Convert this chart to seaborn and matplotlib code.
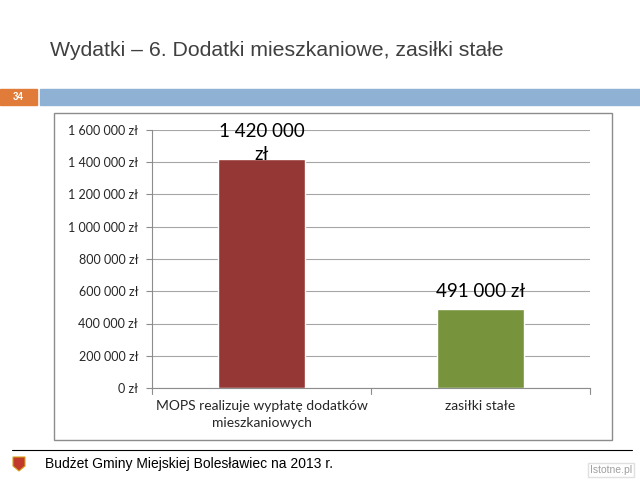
import pandas as pd
import matplotlib
matplotlib.use('Agg')
import matplotlib.pyplot as plt
import matplotlib.patches as mpatches
import seaborn as sns

# dane
kategorie = ['MOPS realizuje wypłatę dodatków\nmieszkaniowych', 'zasiłki stałe']
wartosci = [1420000, 491000]
etykiety_slupkow = ['1 420 000\nzł', '491 000 zł']
kolory = ['#953735', '#77933C']
y_ticks = [0, 200000, 400000, 600000, 800000, 1000000, 1200000, 1400000, 1600000]
y_labels = ['0 zł', '200 000 zł', '400 000 zł', '600 000 zł', '800 000 zł',
            '1 000 000 zł', '1 200 000 zł', '1 400 000 zł', '1 600 000 zł']

tytul = 'Wydatki – 6. Dodatki mieszkaniowe, zasiłki stałe'
stopka = 'Budżet Gminy Miejskiej Bolesławiec na 2013 r.'

sns.set_style('white')
plt.rcParams['font.family'] = ['Liberation Sans', 'DejaVu Sans']
chart_font = ['Lato', 'DejaVu Sans']

fig = plt.figure(figsize=(6.4, 4.8), dpi=100)
fig.patch.set_facecolor('white')

W, H = 640, 480
def fx(px):
    return px / W
def fy(py):
    return 1 - py / H

# tytuł
fig.text(fx(50), fy(50), tytul, fontsize=15.3, color='#404040', va='center', ha='left')

# pasek z numerem slajdu
fig.add_artist(mpatches.Rectangle((0, fy(105)), fx(37), fy(89) - fy(105),
                                  transform=fig.transFigure, color='#E07B39', zorder=-2))
fig.add_artist(mpatches.Rectangle((fx(40), fy(105)), 1 - fx(40), fy(89) - fy(105),
                                  transform=fig.transFigure, color='#8FB1D3', zorder=-2))
fig.text(fx(18), fy(97), '34', fontsize=7, color='white', fontweight='bold', ha='center', va='center')

# ramka wykresu
fig.add_artist(mpatches.Rectangle((fx(54), fy(440)), fx(612) - fx(54), fy(113) - fy(440),
                                  transform=fig.transFigure, facecolor='white',
                                  edgecolor='#8C8C8C', linewidth=1, zorder=-2))

ax = fig.add_axes([fx(152), fy(388), fx(590) - fx(152), fy(130) - fy(388)])
ax.set_zorder(5)
ax.patch.set_alpha(0)
df = pd.DataFrame({'kategoria': kategorie, 'wartosc': wartosci})
sns.barplot(data=df, x='kategoria', y='wartosc', hue='kategoria', palette=kolory,
            width=0.4, legend=False, saturation=1, ax=ax)

ax.set_ylim(0, 1600000)
ax.set_xlim(-0.5, 1.5)
ax.set_yticks(y_ticks)
ax.set_yticklabels(y_labels, fontsize=9, family=chart_font)
ax.set_xticks([0, 1])
ax.set_xticklabels(kategorie, fontsize=10, family=chart_font, linespacing=1.45)
ax.set_xlabel('')
ax.set_ylabel('')
ax.grid(axis='y', color='#A6A6A6', linewidth=0.8)
ax.set_axisbelow(True)
for s in ['top', 'right']:
    ax.spines[s].set_visible(False)
for s in ['left', 'bottom']:
    ax.spines[s].set_color('#8C8C8C')
    ax.spines[s].set_linewidth(0.8)
ax.tick_params(axis='y', length=4, color='#8C8C8C', left=True, pad=6)
ax.tick_params(axis='x', length=0, pad=9)
# znaczniki między kategoriami
for xb in [-0.5, 0.5, 1.5]:
    ax.plot([xb, xb], [0, -40000], color='#8C8C8C', linewidth=0.8, clip_on=False)

# etykiety słupków
offsety = [-3, 6]
for i, (v, lab) in enumerate(zip(wartosci, etykiety_slupkow)):
    ax.annotate(lab, (i, v), xytext=(0, offsety[i]), textcoords='offset points',
                ha='center', va='bottom', fontsize=13.5, family=chart_font,
                color='black', linespacing=1.45, annotation_clip=False)

# stopka
fig.add_artist(plt.Line2D([fx(12), fx(632)], [fy(450), fy(450)], color='black', linewidth=0.8))
fig.text(fx(45), fy(464), stopka, fontsize=10, color='black', va='center', ha='left')

# herb
herb = mpatches.Polygon([(fx(13), fy(457)), (fx(25), fy(457)), (fx(25), fy(466)),
                         (fx(19), fy(471)), (fx(13), fy(466))],
                        closed=True, transform=fig.transFigure, facecolor='#C0392B',
                        edgecolor='#D4A017', linewidth=0.8)
fig.add_artist(herb)

# znak wodny
fig.text(fx(632), fy(470), 'Istotne.pl', fontsize=7.5, color='#A0A0A0', ha='right', va='center',
         bbox=dict(facecolor='white', edgecolor='#E0E0E0', boxstyle='square,pad=0.2'))

plt.savefig('out.png', dpi=100, facecolor='white')
